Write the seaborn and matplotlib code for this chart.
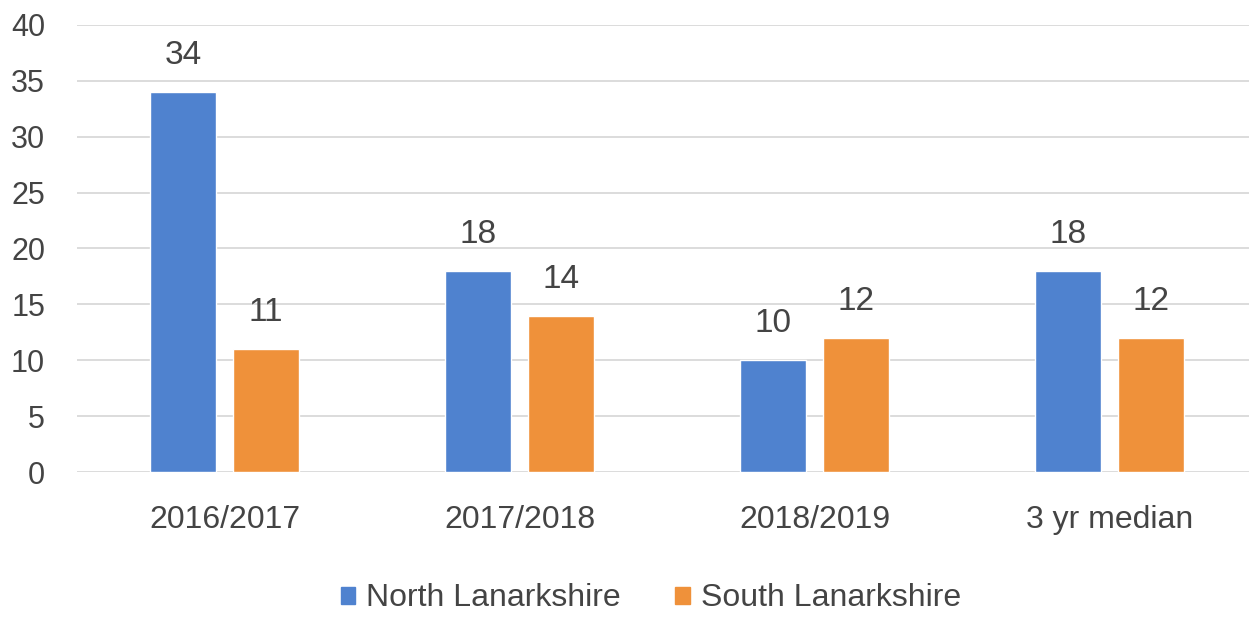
import pandas as pd
import matplotlib.pyplot as plt
import seaborn as sns

# chart values
periods = ["2016/2017", "2017/2018", "2018/2019", "3 yr median"]
north = [34, 18, 10, 18]
south = [11, 14, 12, 12]
series_names = ["North Lanarkshire", "South Lanarkshire"]

BLUE = "#4F82CF"
ORANGE = "#EF913A"
TEXT = "#444444"
GRID = "#D9D9D9"

df = pd.DataFrame({
    "period": periods * 2,
    "value": north + south,
    "area": [series_names[0]] * len(periods) + [series_names[1]] * len(periods),
})

sns.set_style("white")
plt.rcParams["font.family"] = ["Liberation Sans", "DejaVu Sans"]

fig = plt.figure(figsize=(12.49, 6.17), dpi=100)
ax = fig.add_axes([0.0617, 0.235, 0.9448, 0.7245])

sns.barplot(
    data=df, x="period", y="value", hue="area",
    palette=[BLUE, ORANGE], width=0.565, gap=0.21,
    saturation=1, ax=ax, zorder=3, legend=False,
)

for container in ax.containers:
    ax.bar_label(container, padding=15, fontsize=24, color=TEXT)

ax.set_ylim(0, 40)
ax.set_xlim(-0.5, 3.5)
ax.set_yticks(range(0, 41, 5))
ax.yaxis.grid(True, color=GRID, linewidth=1.3, zorder=0)
ax.set_axisbelow(True)
for spine in ax.spines.values():
    spine.set_visible(False)
ax.tick_params(axis="y", length=0, pad=23, labelsize=22, labelcolor=TEXT)
ax.tick_params(axis="x", length=0, pad=24, labelsize=23, labelcolor=TEXT)
ax.set_xlabel("")
ax.set_ylabel("")

handles = [plt.Rectangle((0, 0), 1, 1, color=c) for c in (BLUE, ORANGE)]
fig.legend(
    handles, series_names, loc="center", bbox_to_anchor=(0.521, 0.03),
    ncol=2, frameon=False, fontsize=23, labelcolor=TEXT,
    handlelength=0.45, handleheight=0.45, handletextpad=0.35, columnspacing=1.7,
)

fig.savefig("out.png", dpi=100)
